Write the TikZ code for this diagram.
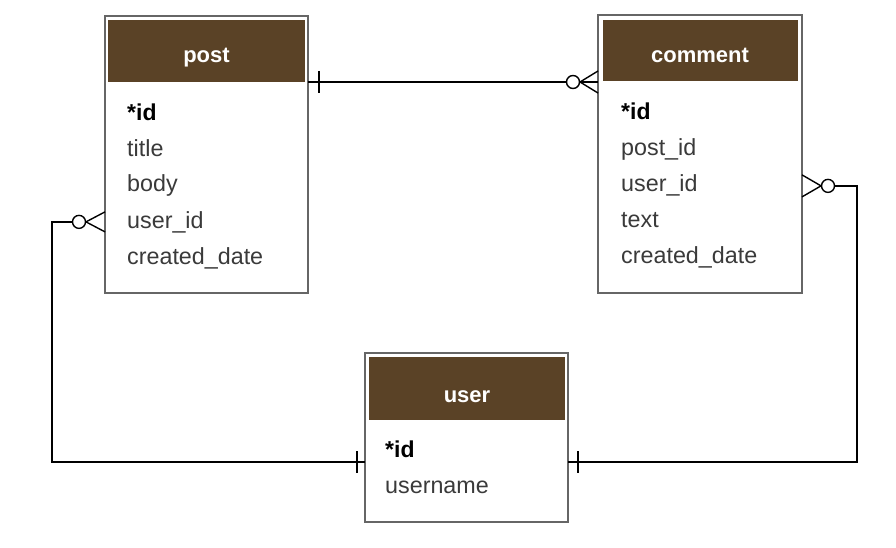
\documentclass[tikz,border=0pt]{standalone}
\usepackage{fontspec}
\setmainfont{Liberation Sans}
\usetikzlibrary{calc}
\definecolor{hdr}{HTML}{5A4226}
\definecolor{fld}{HTML}{3A3A3A}
\definecolor{frame}{HTML}{666666}
\begin{document}
\begin{tikzpicture}[x=1pt,y=-1pt,
 tbl/.style={draw=frame,line width=1.1pt,fill=white,anchor=north west,inner sep=0,outer sep=0},
 hdrbox/.style={fill=hdr,anchor=north west,inner sep=0,outer sep=0},
 ttl/.style={text=white,font=\bfseries\fontsize{22}{26}\selectfont,anchor=base,inner sep=0},
 fieldtxt/.style={text=fld,font=\fontsize{23.3}{26}\selectfont,anchor=base west,inner sep=0},
 keytxt/.style={text=black,font=\bfseries\fontsize{23}{26}\selectfont,anchor=base west,inner sep=0},
 conn/.style={draw=black,line width=1.4pt},
 ring/.style={draw=black,line width=1.4pt,fill=white},
]
\useasboundingbox[fill=white] (0,0) rectangle (896,548);

% post table
\node[tbl,minimum width=203pt,minimum height=277pt] (post) at (105,16) {};
\node[hdrbox,minimum width=197pt,minimum height=62pt] (posthd) at (108,20) {};
\node[ttl] (postt) at (206.5,63) {post};
\node[keytxt] (pid) at (127,121) {*id};
\node[fieldtxt] (ptitle) at (127,157) {title};
\node[fieldtxt] (pbody) at (127,192) {body};
\node[fieldtxt] (puid) at (127,228) {user\_id};
\node[fieldtxt] (pdate) at (127,264) {created\_date};

% comment table
\node[tbl,minimum width=204pt,minimum height=278pt] (comment) at (598,15) {};
\node[hdrbox,minimum width=195pt,minimum height=61pt] (commhd) at (603,20) {};
\node[ttl] (commt) at (700,63) {comment};
\node[keytxt] (cid) at (621,120) {*id};
\node[fieldtxt] (cpid) at (621,156) {post\_id};
\node[fieldtxt] (cuid) at (621,192) {user\_id};
\node[fieldtxt] (ctext) at (621,227) {text};
\node[fieldtxt] (cdate) at (621,263) {created\_date};

% user table
\node[tbl,minimum width=203pt,minimum height=169pt] (user) at (365,353) {};
\node[hdrbox,minimum width=196pt,minimum height=63pt] (userhd) at (369,357) {};
\node[ttl] (usert) at (467,402) {user};
\node[keytxt] (uid) at (385,457) {*id};
\node[fieldtxt] (uname) at (385,493) {username};

% attachment points
\coordinate (a1) at (post.east |- posthd.south);
\coordinate (a2) at (comment.west |- posthd.south);
\coordinate (b1) at (post.west |- puid.west);
\coordinate (c1) at (comment.east |- cuid.west);
\coordinate (uL) at ($(user.west)+(0,24.5)$);
\coordinate (uR) at ($(user.east)+(0,24.5)$);
\coordinate (bendL) at (52,462);
\coordinate (bendR) at (857,462);

% post -- comment
\draw[conn] (a1) -- (a2);
\draw[conn] ($(a1)+(11,-11)$) -- ($(a1)+(11,11)$);
\draw[conn] ($(a2)+(-18,0)$) -- ($(a2)+(0,-11)$);
\draw[conn] ($(a2)+(-18,0)$) -- ($(a2)+(0,11)$);
\draw[ring] ($(a2)+(-25,0)$) circle[radius=6.5pt];

% post -- user
\draw[conn] ($(b1)+(-26,0)$) -| (bendL) -- (uL);
\draw[conn] ($(b1)+(-19,0)$) -- ($(b1)+(0,-10)$);
\draw[conn] ($(b1)+(-19,0)$) -- ($(b1)+(0,10)$);
\draw[ring] ($(b1)+(-26,0)$) circle[radius=6.5pt];
\draw[conn] ($(uL)+(-8,-11)$) -- ($(uL)+(-8,11)$);

% comment -- user
\draw[conn] ($(c1)+(26,0)$) -| (bendR) -- (uR);
\draw[conn] ($(c1)+(19,0)$) -- ($(c1)+(0,-11)$);
\draw[conn] ($(c1)+(19,0)$) -- ($(c1)+(0,11)$);
\draw[ring] ($(c1)+(26,0)$) circle[radius=6.5pt];
\draw[conn] ($(uR)+(10,-11)$) -- ($(uR)+(10,11)$);
\end{tikzpicture}
\end{document}
